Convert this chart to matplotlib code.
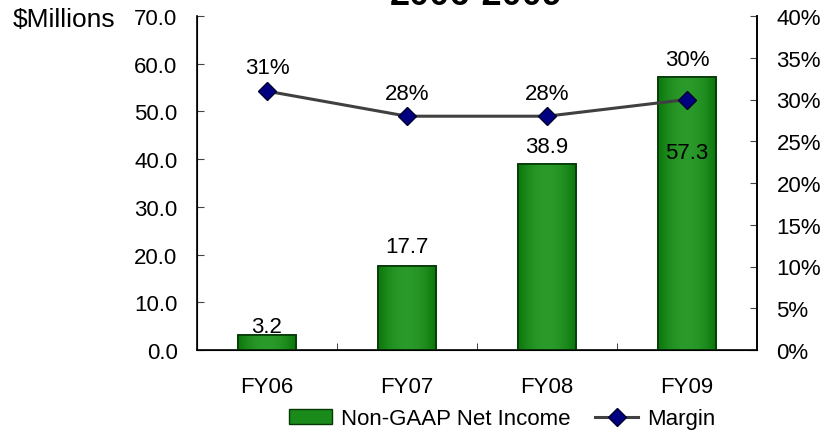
import numpy as np
import matplotlib.pyplot as plt
from matplotlib.colors import LinearSegmentedColormap
from matplotlib.lines import Line2D
from matplotlib.patches import Patch, Rectangle

plt.rcParams['font.family'] = ['Liberation Sans', 'DejaVu Sans']

years = ['FY06', 'FY07', 'FY08', 'FY09']
net_income = [3.2, 17.7, 38.9, 57.3]
margin = [31, 28, 28, 30]

W, H = 826, 431
fig = plt.figure(figsize=(W / 100, H / 100), dpi=100)
ax = fig.add_axes([197 / W, 1 - 351 / H, 560 / W, 334 / H])
ax2 = ax.twinx()

x = np.arange(len(years))
bw = 0.414
fs = 16

# bars: lighter in the middle, darker toward the edges
t = np.linspace(0, 1, 64)
shade = 1 - (2 * t - 1) ** 2
cmap = LinearSegmentedColormap.from_list('bar', ['#0b760b', '#2a9a2a'])
bars = ax.bar(x, net_income, width=bw, color='#1a8a1a', edgecolor='#063806', linewidth=1.2, zorder=2)
for b in bars:
    x0, y0, w, h = b.get_x(), b.get_y(), b.get_width(), b.get_height()
    im = ax.imshow(shade[np.newaxis, :], cmap=cmap, aspect='auto',
                   extent=[x0, x0 + w, y0, y0 + h], zorder=2.5)
    im.set_clip_path(b)
    ax.add_patch(Rectangle((x0, y0), w, h, fill=False, edgecolor='#063806',
                           linewidth=1.2, zorder=3))

# value labels (offsets in points from the bar top)
val_off = [6, 14, 13, -55]
for i, v in enumerate(net_income):
    ax.annotate(f'{v:.1f}', (x[i], v), xytext=(0, val_off[i]), textcoords='offset points',
                ha='center', va='center', fontsize=fs, zorder=5)

ax.set_xlim(-0.5, 3.5)
ax.set_ylim(0, 70)
ax.set_yticks(np.arange(0, 71, 10))
ax.set_yticklabels([f'{v:.1f}' for v in np.arange(0, 71, 10)])
ax.set_xticks(x)
ax.set_xticklabels(years)
ax.set_xticks([0.5, 1.5, 2.5], minor=True)
ax.tick_params(axis='x', which='major', length=0, pad=19, labelsize=fs)
ax.tick_params(axis='x', which='minor', direction='in', length=5, color='#222222')
ax.tick_params(axis='y', direction='in', length=5, labelsize=fs, pad=14, color='#444444')
ax.spines['top'].set_visible(False)
for s in ['left', 'bottom', 'right']:
    ax.spines[s].set_linewidth(1.2)
ax.text(13 / W, 1 - 20 / H, '$Millions', transform=fig.transFigure, fontsize=19,
        ha='left', va='center')

ax2.plot(x, margin, color='#404040', linewidth=2.2, marker='D', markersize=9.5,
         markerfacecolor='#000080', markeredgecolor='#000030', zorder=4)
pct_off = [17, 16, 16, 29]
for i, m in enumerate(margin):
    ax2.annotate(f'{m}%', (x[i], m), xytext=(0, pct_off[i]), textcoords='offset points',
                 ha='center', va='center', fontsize=fs)
ax2.set_ylim(0, 40)
ax2.set_yticks(np.arange(0, 41, 5))
ax2.set_yticklabels([f'{v}%' for v in np.arange(0, 41, 5)])
ax2.tick_params(axis='y', direction='in', length=5, labelsize=fs, pad=14, color='#444444')
ax2.spines['top'].set_visible(False)
ax2.spines['right'].set_linewidth(1.2)
ax.set_zorder(ax2.get_zorder() - 1)
ax2.patch.set_visible(False)

fig.text(476 / W, 1 - 5 / H, '2006-2009', ha='center', va='baseline',
         fontsize=26, fontweight='bold')

handles = [Patch(facecolor='#1a8a1a', edgecolor='#063806'),
           Line2D([0], [0], color='#404040', linewidth=2.2, marker='D', markersize=9.5,
                  markerfacecolor='#000080', markeredgecolor='#000030')]
fig.legend(handles, ['Non-GAAP Net Income', 'Margin'], loc='center', ncol=2,
           bbox_to_anchor=(502 / W, 1 - 420 / H), frameon=False, fontsize=fs,
           handlelength=1.95, handleheight=0.65, columnspacing=1.1, handletextpad=0.4)

fig.savefig('out.png', dpi=100)
